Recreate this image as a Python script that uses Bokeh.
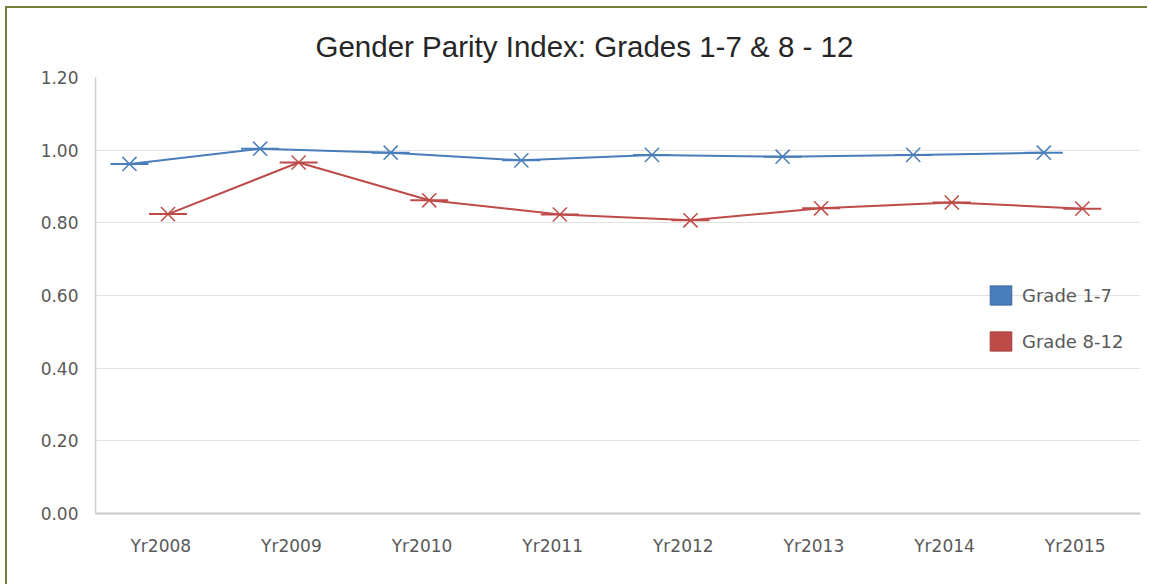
from bokeh.plotting import figure
from bokeh.models import (ColumnDataSource, FactorRange, Range1d, Legend, LegendItem,
                          FixedTicker, Title, PrintfTickFormatter, InlineStyleSheet)
from bokeh.transform import dodge
from bokeh.embed import file_html
from bokeh.resources import INLINE

years = ["Yr2008", "Yr2009", "Yr2010", "Yr2011", "Yr2012", "Yr2013", "Yr2014", "Yr2015"]
grade_1_7 = [0.962, 1.004, 0.993, 0.972, 0.987, 0.982, 0.987, 0.993]
grade_8_12 = [0.824, 0.966, 0.862, 0.823, 0.807, 0.840, 0.856, 0.839]
y_ticks = [0.0, 0.2, 0.4, 0.6, 0.8, 1.0, 1.2]
title_text = "Gender Parity Index: Grades 1-7 & 8 - 12"

BLUE = "#4A7EBB"
RED = "#BE4B48"
GRAY_TXT = "#595959"

src = ColumnDataSource(dict(year=years, g17=grade_1_7, g812=grade_8_12))

p = figure(width=1142, height=578, x_range=FactorRange(*years, range_padding=0),
           y_range=Range1d(0, 1.2), output_backend="svg", toolbar_location=None,
           min_border_left=88, min_border_right=9, min_border_top=69, min_border_bottom=73)
p.stylesheets = [InlineStyleSheet(css=":host { border-left: 2px solid #71803F; border-top: 2px solid #71803F; margin-left: 5px; margin-top: 6px; }")]

p.title = Title(text=title_text, align="left",
                text_font="Liberation Sans", text_font_size="29.5px", text_font_style="normal",
                text_color="#262626", offset=220, standoff=30, text_line_height=0.8)

xb = dodge("year", -0.24, range=p.x_range)
xr = dodge("year", 0.055, range=p.x_range)

p.line(x=xb, y="g17", source=src, line_color=BLUE, line_width=2)
p.scatter(x=xb, y="g17", source=src, marker="dash", size=38, line_color=BLUE, line_width=2)
p.scatter(x=xb, y="g17", source=src, marker="x", size=20, line_color=BLUE, line_width=1.5)

p.line(x=xr, y="g812", source=src, line_color=RED, line_width=2)
p.scatter(x=xr, y="g812", source=src, marker="dash", size=38, line_color=RED, line_width=2)
p.scatter(x=xr, y="g812", source=src, marker="x", size=20, line_color=RED, line_width=1.5)

hidden = ColumnDataSource(dict(x=[years[0]], y=[-5.0]))
lb = p.rect(x="x", y="y", width=0.1, height=0.1, source=hidden, fill_color=BLUE, line_color="#3A6A9E")
lr = p.rect(x="x", y="y", width=0.1, height=0.1, source=hidden, fill_color=RED, line_color="#A03F3C")

legend = Legend(items=[LegendItem(label="Grade 1-7", renderers=[lb]),
                       LegendItem(label="Grade 8-12", renderers=[lr])],
                location=(892, 160), padding=0, margin=0, spacing=22,
                glyph_width=27, glyph_height=24, label_standoff=8,
                label_text_font="DejaVu Sans", label_text_font_size="18px",
                label_text_color=GRAY_TXT, border_line_alpha=0, background_fill_alpha=0)
p.add_layout(legend, "center")

p.xgrid.grid_line_color = None
p.ygrid.grid_line_color = "#E3E3E3"
p.ygrid.grid_line_width = 1
p.yaxis.ticker = FixedTicker(ticks=y_ticks)
p.yaxis.formatter = PrintfTickFormatter(format="%.2f")

for ax in (p.xaxis, p.yaxis):
    ax.major_tick_line_color = None
    ax.minor_tick_line_color = None
    ax.major_label_text_font = "DejaVu Sans"
    ax.major_label_text_font_size = "17px"
    ax.major_label_text_color = GRAY_TXT
p.xaxis.axis_line_color = "#C8C8C8"
p.xaxis.axis_line_width = 2
p.yaxis.axis_line_color = "#D0D0D0"
p.yaxis.axis_line_width = 1.5
p.yaxis.major_label_standoff = 11
p.xaxis.major_label_standoff = 16
p.outline_line_color = None

open("out.html", "w").write(file_html(p, INLINE))
